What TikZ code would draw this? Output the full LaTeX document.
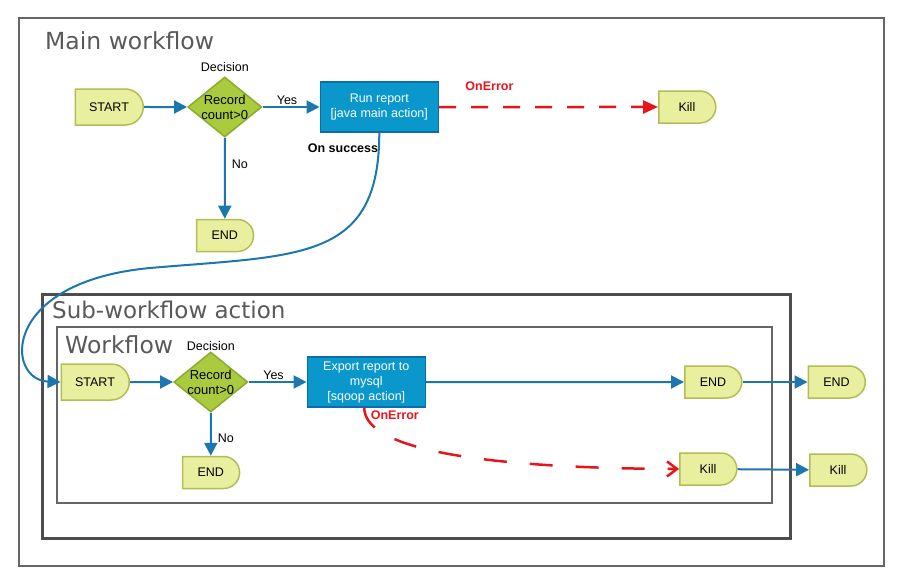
\documentclass[tikz,border=0pt]{standalone}
\usepackage{fontspec}
\setmainfont{Liberation Sans}
\newfontfamily\titlefont{DejaVu Sans}
\usetikzlibrary{arrows.meta,shapes.geometric,shapes.misc}
\usetikzlibrary{positioning}
\definecolor{termfill}{HTML}{E8EF9E}
\definecolor{termline}{HTML}{B3BC55}
\definecolor{decfill}{HTML}{A9CB3D}
\definecolor{decline}{HTML}{8CAB2C}
\definecolor{actfill}{HTML}{0A98CC}
\definecolor{actline}{HTML}{0B6EA8}
\definecolor{flowblue}{HTML}{1B77AD}
\definecolor{errred}{HTML}{E8141C}
\definecolor{framegray}{HTML}{666666}
\definecolor{framedark}{HTML}{4D4D4D}
\definecolor{titlegray}{HTML}{595959}
\tikzset{
    terminal/.style={
      rounded rectangle,
           rounded rectangle west arc=none,
           draw=termline, line width=1.5pt,
           fill=termfill,
           inner sep=2pt,
           text centered,
           minimum width=61pt,
           minimum height=32pt,
           font=\fontsize{12.5}{14}\selectfont,
           },
}
\tikzset{
    decision/.style={
      diamond,
           draw=decline, line width=1.5pt,
           fill=decfill,
           inner sep=0pt,
           minimum width=74pt,
           minimum height=60pt,
           },
}
\tikzset{
    action/.style={
      rectangle,
           draw=actline, line width=1.5pt,
           fill=actfill,
           text=white,
           align=center,
           inner sep=2pt,
           minimum width=118pt,
           minimum height=50pt,
           font=\fontsize{12.5}{15}\selectfont,
           },
}
\tikzset{
    dectext/.style={align=center, font=\fontsize{13}{15}\selectfont},
    edgelabel/.style={font=\fontsize{12.5}{14}\selectfont, inner sep=1pt},
    errlabel/.style={text=errred, font=\fontsize{12.5}{14}\selectfont\bfseries, inner sep=1pt},
    title/.style={text=titlegray, font=\titlefont\fontsize{23.5}{26}\selectfont, inner sep=0pt, anchor=base west},
    frame/.style={draw=framegray, line width=2pt},
    flow/.style={draw=flowblue, line width=2pt, -{Triangle[length=13pt,width=13pt]}},
    error/.style={draw=errred, line width=2.5pt, dash pattern=on 17pt off 15pt, -{Triangle[length=15pt,width=13pt]}},
    suberror/.style={draw=errred, line width=2.5pt, dash pattern=on 23pt off 23pt, -{Straight Barb[length=10pt,width=15pt]}},
}

\begin{document}
\begin{tikzpicture}[x=1pt,y=-1pt]
\useasboundingbox (0,0) rectangle (904,586);

\draw[frame] (19,18) rectangle (884,566);
\draw[frame, draw=framedark, line width=3pt] (42,294) rectangle (790,538);
\draw[frame] (57,327) rectangle (772,503);

\node[title] (tmain) at (45,50) {Main workflow};
\node[title, font=\titlefont\fontsize{23}{26}\selectfont] (tsub) at (52,318) {Sub-workflow action};
\node[title] (twf) at (65,353) {Workflow};

% main workflow
\node[terminal,minimum width=72pt,minimum height=36pt] (mstart) at (109,107) {START};
\node[decision,right = 43pt of mstart,
      label={[dectext]center:Record\\count>0},
      label={[edgelabel,label distance=3pt]above:Decision}](mdec){};
\node[action,right = 57pt of mdec](runrep){Run report\\{}[java main action]};
\node[terminal,right = 219pt of runrep](mkill){Kill};
\node[terminal,below = 81pt of mdec](mend){END};
\node[errlabel,anchor=east,text=black] (onsucc) at ([yshift=-15pt]runrep.south) {On success};

\draw[flow] (mstart) -- (mdec);
\draw[flow] (mdec) -- node[edgelabel,above,xshift=-4pt]{Yes} (runrep);
\draw[flow] (mdec) -- node[edgelabel,right=5pt,pos=0.33]{No} (mend);
\draw[error] (runrep) -- node[errlabel,above=14pt,pos=0.23]{OnError} (mkill);

% sub-workflow
\node[terminal,minimum width=72pt,minimum height=36pt] (sstart) at (95,382) {START};
\node[decision,right = 43pt of sstart,
      label={[dectext]center:Record\\count>0},
      label={[edgelabel,label distance=-1pt]above:Decision}](sdec){};
\node[action,right = 58pt of sdec](export){Export report to\\mysql\\{}[sqoop action]};
\node[terminal,right = 258pt of export](send){END};
\node[terminal,right = 65pt of send](soutend){END};
\node[terminal,below = 43pt of sdec](sdend){END};
\node[terminal] (skill) at (708,469) {Kill};
\node[terminal] (soutkill) at (838,470) {Kill};

\draw[flow] (sstart) -- (sdec);
\draw[flow] (sdec) -- node[edgelabel,above,xshift=-4pt]{Yes} (export);
\draw[flow] (sdec) -- node[edgelabel,right=5pt,pos=0.6]{No} (sdend);
\draw[flow] (export) -- (send);
\draw[flow] (send) -- (soutend);
\draw[flow] (skill) -- (soutkill);
\draw[suberror] ([xshift=-2pt]export.south) .. controls +(0,36) and +(-227,-1) .. node[errlabel,right=3pt,pos=0.07]{OnError} (skill.west);

% on success link
\coordinate (bend) at (150,268);
\draw[flow] (runrep.south) .. controls +(0,129) and +(150,-13) .. (bend)
            .. controls +(-150,14) and +(-55,-2) .. (sstart.west);

\end{tikzpicture}
\end{document}
